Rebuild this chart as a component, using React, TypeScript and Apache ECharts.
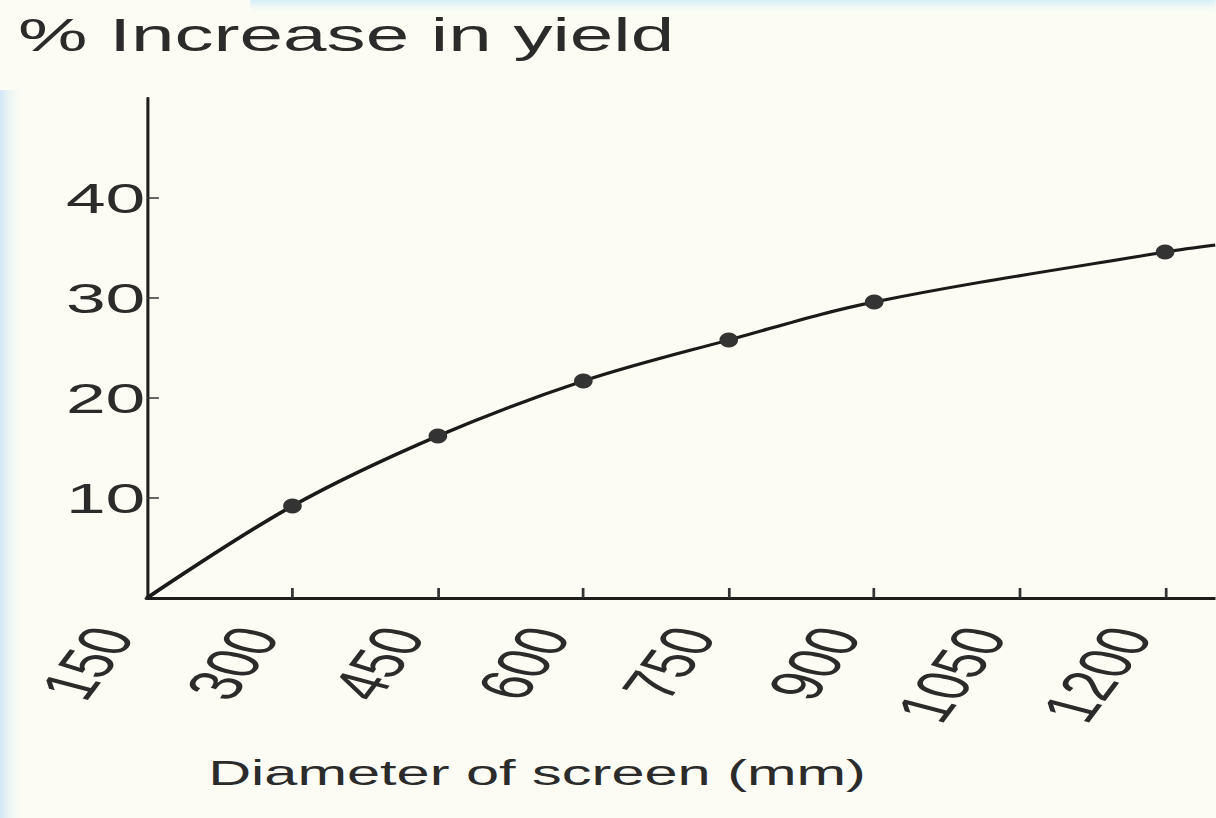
import React, { useEffect, useRef } from "react";
import * as echarts from "echarts";

// Data
const diameters = [150, 300, 450, 600, 750, 900, 1200, 1252];
const yieldIncrease = [0, 9.2, 16.2, 21.7, 25.8, 29.6, 34.6, 35.3];
const markerShown = [false, true, true, true, true, true, true, false];
const xTickValues = [300, 450, 600, 750, 900, 1050, 1200];
const xLabelValues = [150, 300, 450, 600, 750, 900, 1050, 1200];
const yTickValues = [10, 20, 30, 40];

const titleText = "% Increase in yield";
const xAxisTitle = "Diameter of screen (mm)";

// the scanned figure is horizontally stretched
const S = 1.7;
const W = 1216 / S;
const FONT = "'Liberation Sans', Arial, Helvetica, sans-serif";

export default function App() {
  const ref = useRef<HTMLDivElement>(null);
  useEffect(() => {
    if (!ref.current) return;
    const chart = echarts.init(ref.current, null, { renderer: "svg" });
    const data = diameters.map((d, i) => ({
      value: [d, yieldIncrease[i]],
      symbol: markerShown[i] ? "circle" : "none",
    }));
    chart.setOption({
      animation: false,
      backgroundColor: "transparent",
      grid: { left: 147 / S, right: 0, top: 98, bottom: 220, containLabel: false },
      xAxis: {
        type: "value",
        min: 150,
        max: 1252,
        interval: 150,
        axisLine: { show: true, lineStyle: { color: "#1e1e1e", width: 3 } },
        axisTick: {
          show: true,
          inside: true,
          length: 10,
          customValues: xTickValues,
          lineStyle: { color: "#333", width: 1.6 },
        },
        axisLabel: {
          customValues: xLabelValues,
          formatter: (v: number) => String(v),
          rotate: 66,
          margin: -14,
          padding: [0, 50, 0, 0],
          fontSize: 44,
          color: "#2b2b2b",
          fontFamily: FONT,
          hideOverlap: false,
        },
        splitLine: { show: false },
      },
      yAxis: {
        type: "value",
        min: 0,
        max: 50,
        interval: 10,
        axisLine: { show: true, lineStyle: { color: "#1e1e1e", width: 1.8 } },
        axisTick: {
          show: true,
          inside: true,
          length: 7,
          customValues: yTickValues,
          lineStyle: { color: "#333", width: 1.5 },
        },
        axisLabel: {
          customValues: yTickValues,
          margin: 1,
          fontSize: 42,
          color: "#2b2b2b",
          fontFamily: FONT,
        },
        splitLine: { show: false },
      },
      graphic: [
        {
          type: "rect",
          silent: true,
          z: -10,
          shape: { x: 0, y: 90, width: 24 / S, height: 728 },
          style: {
            fill: new echarts.graphic.LinearGradient(0, 0, 1, 0, [
              { offset: 0, color: "rgba(205,228,245,0.9)" },
              { offset: 1, color: "rgba(252,252,245,0)" },
            ]),
          },
        },
        {
          type: "rect",
          silent: true,
          z: -10,
          shape: { x: 250 / S, y: 0, width: W, height: 16 },
          style: {
            fill: new echarts.graphic.LinearGradient(0, 0, 0, 1, [
              { offset: 0, color: "rgba(210,238,246,0.95)" },
              { offset: 1, color: "rgba(252,252,245,0)" },
            ]),
          },
        },
        {
          type: "text",
          left: 18 / S,
          top: 12,
          style: {
            text: titleText,
            fontSize: 46,
            fontFamily: FONT,
            fill: "#2b2b2b",
          },
        },
        {
          type: "text",
          x: 537 / S,
          y: 773,
          style: {
            text: xAxisTitle,
            fontSize: 35,
            fontFamily: FONT,
            fill: "#2b2b2b",
            align: "center",
            verticalAlign: "middle",
          },
        },
      ],
      series: [
        {
          type: "line",
          data,
          smooth: 0.35,
          symbolSize: [11, 15],
          lineStyle: { color: "#1a1a1a", width: 3 },
          itemStyle: { color: "#333" },
          clip: true,
        },
      ],
    });
    return () => chart.dispose();
  }, []);
  return (
    <div
      style={{
        position: "fixed",
        left: 0,
        top: 0,
        width: 1216,
        height: 818,
        overflow: "hidden",
        background: "#fcfcf5",
      }}
    >
      <div
        ref={ref}
        style={{
          width: W,
          height: 818,
          transform: `scaleX(${S})`,
          transformOrigin: "0 0",
        }}
      />
    </div>
  );
}
